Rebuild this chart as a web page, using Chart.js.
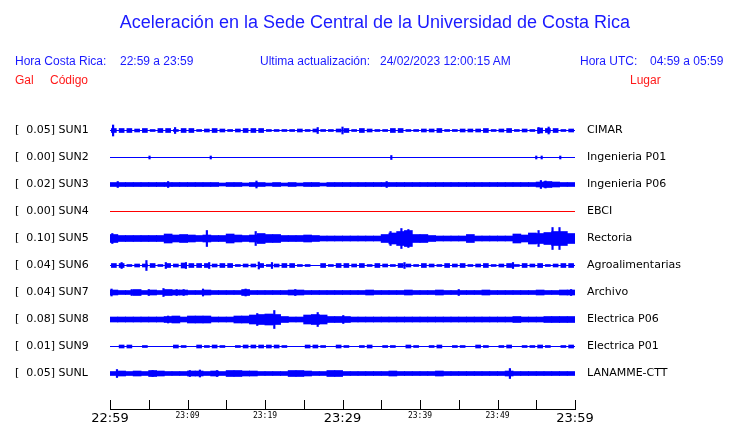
<!DOCTYPE html>
<html>
<head>
<meta charset="utf-8">
<script src="https://cdn.jsdelivr.net/npm/chart.js@4.4.0/dist/chart.umd.min.js"></script>
<style>
body{margin:0;background:#fff;}
#wrap{position:relative;width:740px;height:423px;}
#c{position:absolute;left:0;top:0;}
.t{position:absolute;font-family:"Liberation Sans",Arial,sans-serif;font-size:12px;line-height:14px;white-space:pre;color:#1a1aff;}
.r{color:#ff1a1a;}
#title{left:0;width:750px;text-align:center;top:12px;font-size:18px;line-height:20px;}
</style>
</head>
<body>
<div id="wrap">
<canvas id="c" width="740" height="423"></canvas>
<div class="t" id="title">Aceleración en la Sede Central de la Universidad de Costa Rica</div>
<div class="t" style="left:15px;top:54px">Hora Costa Rica:</div>
<div class="t" style="left:120px;top:54px">22:59 a 23:59</div>
<div class="t" style="left:260px;top:54px">Ultima actualización:</div>
<div class="t" style="left:380px;top:54px">24/02/2023 12:00:15 AM</div>
<div class="t" style="left:580px;top:54px">Hora UTC:</div>
<div class="t" style="left:650px;top:54px">04:59 a 05:59</div>
<div class="t r" style="left:15px;top:73px">Gal</div>
<div class="t r" style="left:50px;top:73px">Código</div>
<div class="t r" style="left:630px;top:73px">Lugar</div>
</div>
<script>
const codes = ['SUN1','SUN2','SUN3','SUN4','SUN5','SUN6','SUN7','SUN8','SUN9','SUNL'];
const gal = [0.05, 0.00, 0.02, 0.00, 0.10, 0.04, 0.04, 0.08, 0.01, 0.05];
const places = ['CIMAR','Ingenieria P01','Ingenieria P06','EBCI','Rectoria','Agroalimentarias','Archivo','Electrica P06','Electrica P01','LANAMME-CTT'];
const timeLabels = ['22:59','23:09','23:19','23:29','23:39','23:49','23:59'];

// half height of each trace, one value per minute (display counts)
const sun1 = [2,2,2,1.5,2,1,2,2,1,2, 2,1,1.5,2,1.5,1,1.5,2,2,2, 1,1,1,1,1.5,1,1.5,1,1,1.5,
              2,1,2,1.5,1,1,2,2,1,1, 1.5,1.5,2,1,1,1.5,1.5,1.5,2,1, 1.5,2,1,1.5,1,2.5,2,2,1,1.5];
const sun2 = [];
const sun3 = [2,2,2,2,2,2,2,2,2,2, 2,2,2,2,1.5,2,2,1.5,2,2, 1.5,2,1.5,2,1.5,2,2,1.5,2,2,
              2,2,2,2,2,2,2,2,2,2, 2,2,2,2,2,2,2,2,2,2, 2,2,2,2,2,2.5,3,2.5,2,2];
const sun4 = [];
const sun5 = [4,3,3,3,3,3,3,4.5,3.5,4, 3.5,3,3.5,3,3,4.5,3.5,3,3.5,5, 4,4,3,3,3,3.5,3,2.5,2.5,2.5,
              2.5,2.5,2.5,2.5,2.5,4,5.5,7,8,4, 4,3,2.5,2.5,2.5,2.5,4,2.5,2.5,2.5, 2.5,2.5,4.5,3.5,5.5,5,6,7,7,5];
const sun6 = [2,2,1,1.5,1.5,2,1,2,1.5,2.5, 2,2,2,1.5,2,2,1,1.5,1.5,2, 1,1.5,2,2,1,1,0,2,1,2,
              2,1.5,2,1,2,1.5,1,2,1.5,1, 2,1.5,1,2,1.5,2,1,1.5,2,1, 1.5,2,1,2,1.5,2,1,1.5,2,2];
const sun7 = [2.5,2,2,3,2,2.5,2,3,2.5,2.5, 2,2,2.5,2,2,2,2,3,2,2, 2,2,2,2.5,2.5,2,2,2,2,2,
              2,2,2,2.5,2,2,2,2,2.5,2, 2,2,2.5,2,2,2,2,2,2.5,2, 2,2,2,2,2,2.5,2,2,2.5,2.5];
const sun8 = [2.5,2.5,2.5,2.5,2.5,2.5,2.5,3,3.5,2.5, 3.5,3.5,3.5,2.5,2.5,2.5,3.5,3.5,4.5,5, 5.5,5,3,2.5,2.5,4.5,5,4.5,3,3,
              3,2.5,2.5,2.5,2.5,2.5,2.5,2.5,2.5,2.5, 2.5,2.5,2.5,2.5,2.5,2.5,2.5,2.5,2.5,2.5, 2.5,2.5,3,2.5,2.5,2.5,3,3,3,3];
const sun9 = [0,1.5,1.5,0,1,0,0,0,1.5,1, 0,1.5,1,1.5,1,0,1,1.5,1.5,1.5, 1.5,1.5,1,0,0,1.5,1.5,1,0,1.5,
              1,0,1,1.5,0,1,1,0,1.5,1, 0,1,1.5,0,1,1,0,1.5,1,0, 1,1.5,0,1,1,1.5,1,0,1,1.5];
const sunL = [2,2.5,2,2.5,2,3,2.5,2,2,2, 2.5,2.5,2,2.5,2,3,3,2.5,2.5,2, 2,2,2,3,3,2.5,2,2,3,3,
              2,2,2,2,2,2,2.5,2,2,2, 2,2,2.5,2,2,2,2,2,2,2, 2,2.5,2,2,2,2,2,2,2,2];

// single spikes: [minute, half height]
const sun1Spikes = [[0.4,5.5],[8.4,3],[26.8,3],[30,3.5],[55.3,3],[56.6,3.5]];
const sun2Spikes = [[5.1,1.5],[13,1.5],[36.3,2],[55,1.5],[55.7,1.5],[58.1,1.5]];
const sun3Spikes = [[1,3],[7.5,3],[18.9,3.5],[35.7,3],[55.6,4],[56.2,3.5]];
const sun4Spikes = [];
const sun5Spikes = [[0.3,5],[12.5,8],[18.8,7],[36.2,7],[37.6,10],[38.5,9],[55.3,8],[57.1,11],[58,11]];
const sun6Spikes = [[1.5,3],[4.7,5],[7.2,3],[9.8,3],[12.8,3],[19.2,3.5],[20.9,3],[38,3],[52,3]];
const sun7Spikes = [[0.2,3.5],[2.8,3],[5,3],[6.9,4],[8.6,3],[9.5,3],[12,3.5],[17.5,3.5],[23.9,3],[45,3],[59.5,3]];
const sun8Spikes = [[7.5,3.5],[19,6],[21.2,9],[26.8,7],[30.1,4]];
const sun9Spikes = [];
const sunLSpikes = [[0.9,4],[5.5,3],[10.3,3],[11.6,3.5],[13.8,3],[51.6,5]];

const envelopes = [sun1, sun2, sun3, sun4, sun5, sun6, sun7, sun8, sun9, sunL];
const spikes = [sun1Spikes, sun2Spikes, sun3Spikes, sun4Spikes, sun5Spikes, sun6Spikes, sun7Spikes, sun8Spikes, sun9Spikes, sunLSpikes];
const dense = [false, false, true, false, true, false, true, true, false, true];
const GAIN = 27; // display counts per row
const HALF = 0.5 / GAIN; // puts the thin base lines on whole pixels

const datasets = [];
codes.forEach((code, i) => {
    const col = code === 'SUN4' ? '#ff0000' : '#0000ff';
    datasets.push({type: 'line', data: [{x: 0, y: i}, {x: 60, y: i}], borderColor: col, borderWidth: 1, pointRadius: 0});
    datasets.push({
        type: 'bar',
        data: envelopes[i].map((a, m) => [m, a]).filter(p => p[1] > 0)
            .map(p => ({x: p[0] + 0.5, y: [i - p[1] / GAIN, i + p[1] / GAIN]})),
        backgroundColor: col, barThickness: dense[i] ? 8 : 5, grouped: false
    });
    datasets.push({
        type: 'bar',
        data: spikes[i].map(s => ({x: s[0], y: [i - s[1] / GAIN, i + s[1] / GAIN]})),
        backgroundColor: col, barThickness: 1.5, grouped: false
    });
});

// small tick marks standing up from the time axis
const tickMarks = {
    id: 'tickMarks',
    afterDraw(chart) {
        const xs = chart.scales.x, c = chart.ctx;
        c.save();
        c.strokeStyle = '#000';
        c.lineWidth = 1;
        c.beginPath();
        xs.ticks.forEach(t => {
            const px = Math.round(xs.getPixelForValue(t.value)) + 0.5;
            c.moveTo(px, xs.top - 9);
            c.lineTo(px, xs.top);
        });
        c.stroke();
        c.restore();
    }
};

const rowTicks = s => { s.ticks = codes.map((_, i) => ({value: i})); };
const fitWidth = w => s => { s.width = w; s.paddingTop = 0; s.paddingBottom = 0; };

new Chart(document.getElementById('c'), {
    type: 'bar',
    data: {datasets: datasets},
    options: {
        responsive: false, animation: false, devicePixelRatio: 1,
        layout: {padding: {top: 103, left: 15, right: 0, bottom: 0}},
        plugins: {legend: {display: false}, tooltip: {enabled: false}},
        scales: {
            x: {
                type: 'linear', min: 0, max: 60, offset: false,
                grid: {display: false, drawTicks: false},
                border: {display: true, color: '#000', width: 1},
                afterBuildTicks: s => { s.ticks = []; for (let v = 0; v <= 60; v += 5) s.ticks.push({value: v}); },
                afterFit: s => { s.height = 14; s.paddingLeft = 0; s.paddingRight = 0; },
                ticks: {
                    autoSkip: false, maxRotation: 0, padding: 2, color: '#000',
                    callback: v => v % 10 === 0 ? timeLabels[v / 10] : '',
                    font: c => (c.tick && c.tick.value % 30 === 0)
                        ? {family: 'DejaVu Sans', size: 13}
                        : {family: 'DejaVu Sans Mono', size: 8}
                }
            },
            y: {
                type: 'linear', position: 'left', reverse: true, min: -1 - HALF, max: 10.333 - HALF,
                grid: {display: false, drawTicks: false}, border: {display: false},
                afterBuildTicks: rowTicks,
                afterFit: fitWidth(95),
                ticks: {crossAlign: 'far', padding: 0, color: '#000', font: {family: 'DejaVu Sans', size: 11},
                    callback: v => '[  ' + gal[v].toFixed(2) + '] ' + codes[v]}
            },
            y2: {
                type: 'linear', position: 'right', reverse: true, min: -1 - HALF, max: 10.333 - HALF,
                grid: {display: false, drawTicks: false}, border: {display: false},
                afterBuildTicks: rowTicks,
                afterFit: fitWidth(165),
                ticks: {crossAlign: 'near', padding: 12, color: '#000', font: {family: 'DejaVu Sans', size: 11},
                    callback: v => places[v]}
            }
        }
    },
    plugins: [tickMarks]
});
</script>
</body>
</html>
